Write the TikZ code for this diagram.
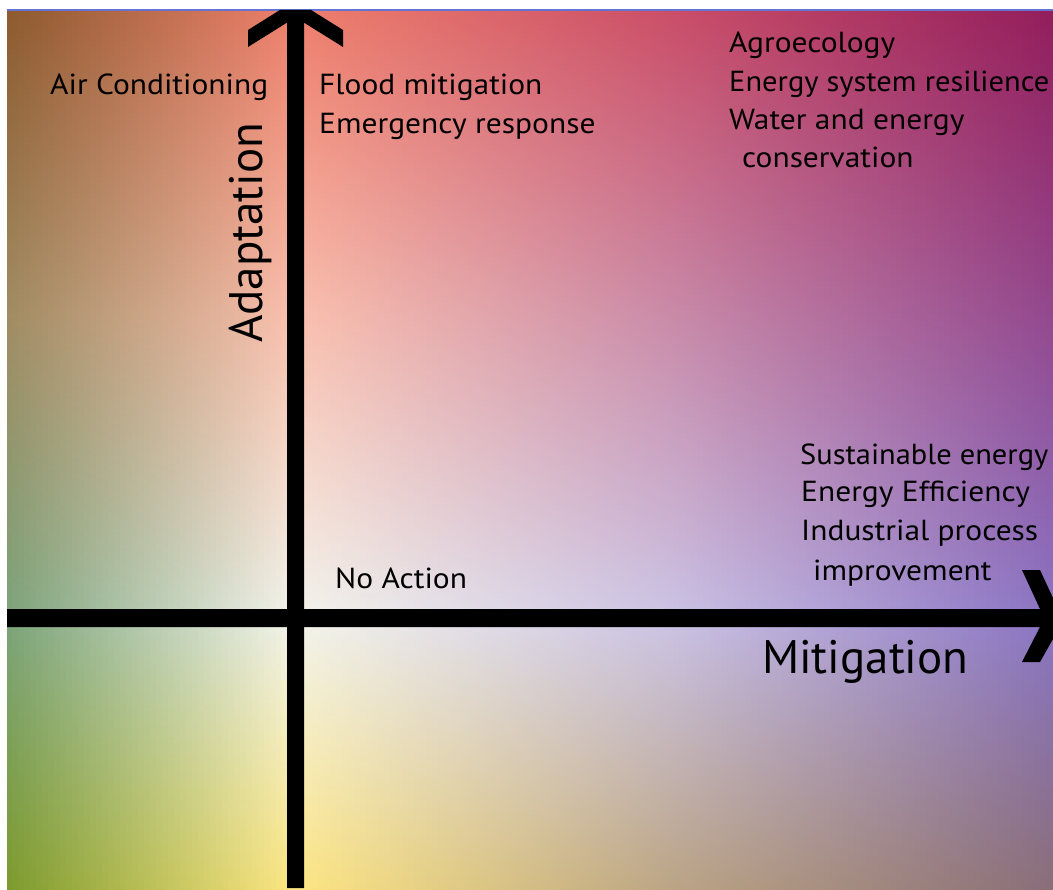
\documentclass[tikz,border=0pt]{standalone}
\usepackage{fontspec}
\setmainfont{PT Sans}
\newfontfamily\widefont{PT Sans}[FakeStretch=1.085]
\newfontfamily\edgefont{PT Sans}[FakeStretch=1.05]
\definecolor{g00}{HTML}{8C5A2E}
\definecolor{g01}{HTML}{EE7F6C}
\definecolor{g02}{HTML}{CA4E68}
\definecolor{g03}{HTML}{931E5C}
\definecolor{g10}{HTML}{A08B62}
\definecolor{g11}{HTML}{FAC0AE}
\definecolor{g12}{HTML}{C98AA8}
\definecolor{g13}{HTML}{93488E}
\definecolor{g20}{HTML}{7BA37A}
\definecolor{g21}{HTML}{F3F4EC}
\definecolor{g22}{HTML}{CBC3E5}
\definecolor{g23}{HTML}{8A74C4}
\definecolor{g30}{HTML}{7C9A2C}
\definecolor{g31}{HTML}{FDE682}
\definecolor{g32}{HTML}{BBA484}
\definecolor{g33}{HTML}{8A6E78}
\definecolor{topblue}{HTML}{6574D2}
\begin{document}
\begin{tikzpicture}[x=1pt,y=-1pt,
  lbl/.style={anchor=base west, inner sep=0pt, font=\widefont\fontsize{29}{35}\selectfont},
  edgelbl/.style={anchor=base west, inner sep=0pt, font=\edgefont\fontsize{29}{35}\selectfont},
  big/.style={anchor=base west, inner sep=0pt, font=\fontsize{47}{56}\selectfont},
  axisfill/.style={fill=black}]
\useasboundingbox (0,0) rectangle (1053,890);
\fill[white] (0,0) rectangle (1053,890);
% background gradient, built from vertical strips
\foreach \ca/\cb/\xa/\xb/\n in {0/1/7/295/48, 1/2/295/674/63, 2/3/674/1053/63}{
  \foreach \i in {1,...,\n}{
    \pgfmathsetmacro\xl{max(7,\xa+(\i-1)/\n*(\xb-\xa)-0.4)}
    \pgfmathsetmacro\xr{min(1053,\xa+\i/\n*(\xb-\xa)+0.4)}
    \pgfmathsetmacro\p{100*(1-(\i-0.5)/\n)}
    \colorlet{gA}{g0\ca!\p!g0\cb}
    \colorlet{gB}{g1\ca!\p!g1\cb}
    \colorlet{gC}{g2\ca!\p!g2\cb}
    \colorlet{gD}{g3\ca!\p!g3\cb}
    \pgfdeclareverticalshading{vs\ca-\i}{100bp}{color(0bp)=(gD); color(25bp)=(gD); color(40.47bp)=(gC); color(57.76bp)=(gB); color(75bp)=(gA); color(100bp)=(gA)}
    \shade[shading=vs\ca-\i] (\xl,11) rectangle (\xr,890);
  }
}
% thin blue top line
\draw[line width=2.5pt, draw=topblue] (7,10) -- (1053,10);
% vertical axis (Adaptation)
\coordinate (vbot) at (295.5,888);
\coordinate (vtop) at (295.5,10);
\fill[axisfill] (248,30) -- (280,10) -- (311,10) -- (343,30) -- (343,47) -- (304,22.6)
  -- (304,888) -- (287,888) -- (287,22.6) -- (248,47) -- cycle;
% horizontal axis (Mitigation)
\coordinate (hleft) at (7,618);
\coordinate (hright) at (1053,618);
\fill[axisfill] (7,609) -- (1040,609) -- (1022,570) -- (1040,570) -- (1053,598)
  -- (1053,639) -- (1040,662) -- (1022,662) -- (1040,627) -- (7,627) -- cycle;
% labels
\node[lbl] (ac) at (50,95) {Air Conditioning};
\node[lbl] (flood) at (319,95) {Flood mitigation};
\node[lbl] (emerg) at (319,134) {Emergency response};
\node[lbl] (agro) at (729,53) {Agroecology};
\node[edgelbl] (esr) at (729,92) {Energy system resilience};
\node[lbl] (water) at (729,130) {Water and energy};
\node[lbl] (cons) at (742,168) {conservation};
\node[edgelbl] (sust) at (800,465) {Sustainable energy};
\node[lbl] (eff) at (801,502) {Energy Efficiency};
\node[lbl] (ind) at (801,540) {Industrial process};
\node[lbl] (impr) at (813,580) {improvement};
\node[lbl] (noact) at (335,588) {No Action};
\node[big] (mit) at (762,673) {Mitigation};
\node[big, rotate=90] (adapt) at (262,343) {Adaptation};
\end{tikzpicture}
\end{document}
